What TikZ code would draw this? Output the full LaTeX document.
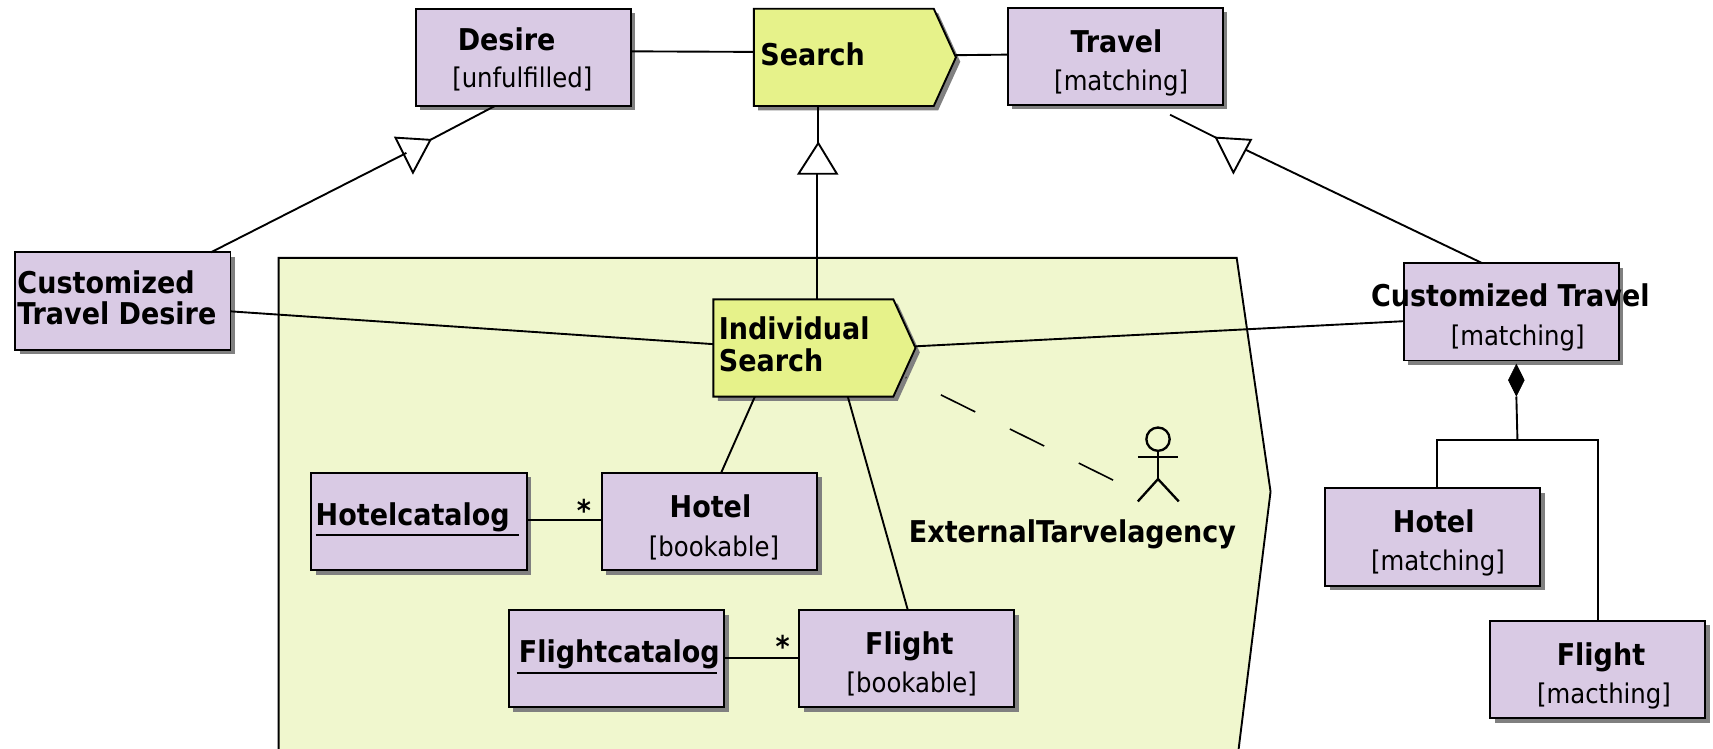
\documentclass[tikz,border=0pt]{standalone}
\usepackage{fontspec}
\setmainfont{DejaVu Sans Condensed}
\usetikzlibrary{shapes.geometric,shapes.symbols,shadows,calc}
\definecolor{boxpurple}{HTML}{D9CAE4}
\definecolor{actyellow}{HTML}{E6F28A}
\definecolor{regiongreen}{HTML}{F0F7CE}
\newcommand{\ttl}[1]{{\fontsize{20.6pt}{24pt}\selectfont\bfseries #1}}
\newcommand{\sta}[1]{{\fontsize{18.6pt}{22pt}\selectfont #1}}
\tikzset{
  x=0.75pt,y=-0.75pt,
  conn/.style={draw=black,line width=1.3pt},
  shade3/.style={drop shadow={shadow xshift=3pt,shadow yshift=-3pt,fill=black!50,opacity=1}},
  objbox/.style={rectangle,draw=black,line width=1.3pt,fill=boxpurple,shade3,minimum width=147.75pt,minimum height=66.75pt,inner sep=0pt,outer sep=0pt},
  actbox/.style={signal,signal to=east,signal from=nowhere,signal pointer angle=131,draw=black,line width=1.3pt,fill=actyellow,shade3,minimum width=138.75pt,minimum height=66.75pt,inner sep=0pt,outer sep=0pt,anchor=west},
  txt/.style={anchor=base west,inner sep=0pt,outer sep=0pt},
  tri/.style={draw=black,line width=1.3pt,fill=white,line join=miter},
}
\begin{document}
\begin{tikzpicture}
\useasboundingbox (0,0) rectangle (1568,685.6);
\begin{scope}
\clip (0,0) rectangle (1568,685.6);
\draw[line width=1.3pt,fill=regiongreen] (255,700) -- (255,236) -- (1132,236) -- (1163,450) -- (1132,700);
\end{scope}

\node[objbox] (desire) at (479,52.5) {};
\node[objbox] (travel) at (1021,51.5) {};
\node[objbox] (ctd) at (112.5,275.5) {};
\node[objbox] (ct) at (1383.5,285.5) {};
\node[objbox] (hcat) at (383.5,477.5) {};
\node[objbox] (hotel) at (649.5,477.5) {};
\node[objbox] (fcat) at (564.5,603) {};
\node[objbox] (flight) at (830,603) {};
\node[objbox] (hotelb) at (1311.5,491.5) {};
\node[objbox] (flightb) at (1462.5,613) {};
\node[actbox] (search) at (690,52.5) {};
\node[actbox] (isearch) at (653,318.5) {};

% generalisation triangles
\coordinate (ta1) at (362,126); \coordinate (ta2) at (394,128); \coordinate (ta3) at (378,158);
\coordinate (tb1) at (749,131); \coordinate (tb2) at (766,159); \coordinate (tb3) at (731,159);
\coordinate (tc1) at (1113,126); \coordinate (tc2) at (1145,128); \coordinate (tc3) at (1129,158);
\draw[tri] (ta1) -- (ta2) -- (ta3) -- cycle;
\draw[tri] (tb1) -- (tb2) -- (tb3) -- cycle;
\draw[tri] (tc1) -- (tc2) -- (tc3) -- cycle;
\coordinate (tam) at (372,140);
\coordinate (tcm) at (1140,137);
\coordinate (tbb) at (748,159);

\draw[conn] ($(desire.east)+(0,-5.5)$) -- ($(search.west)+(0,-5)$);
\draw[conn] ($(search.east)+(0,-2)$) -- ($(travel.west)+(0,-1.5)$);
\draw[conn] ($(desire.south)+(-26,0)$) -- (ta2);
\draw[conn] ($(ctd.north)+(80.5,0)$) -- (tam);
\draw[conn] ($(search.west)+(59,44.5)$) -- (tb1);
\draw[conn] (tbb) -- ($(isearch.west)+(95,-44.5)$);
\draw[conn] ($(travel.south)+(50,9)$) -- (tc1);
\draw[conn] ($(ct.north)+(-26.5,0)$) -- (tcm);
\draw[conn] ($(ctd.east)+(0,9.5)$) -- ($(isearch.west)+(0,-3.5)$);
\draw[conn] ($(isearch.east)+(0,-1.5)$) -- ($(ct.west)+(0,8.5)$);
\draw[conn] ($(isearch.west)+(38,44.5)$) -- ($(hotel.north)+(10.5,0)$);
\draw[conn] ($(isearch.west)+(123,44.5)$) -- ($(flight.north)+(1,0)$);
\draw[conn] ($(hcat.east)+(0,-1.5)$) -- ($(hotel.west)+(0,-1.5)$);
\draw[conn] ($(fcat.east)+(0,-1)$) -- ($(flight.west)+(0,-1)$);

% composition
\node[diamond,draw=black,fill=black,inner sep=0pt,minimum width=11pt,minimum height=22pt,aspect=0.5] (aggr) at (1388,348) {};
\coordinate (junc) at (1389,403);
\coordinate (hbtop) at ($(hotelb.north)+(3.5,0)$);
\coordinate (fbtop) at ($(flightb.north)+(0.5,0)$);
\draw[conn] (aggr.south) -- (junc);
\draw[conn] (hbtop) |- (junc) -| (fbtop);

% actor
\node[circle,draw=black,line width=1.6pt,minimum size=16pt,inner sep=0pt,outer sep=0pt] (head) at (1060,402) {};
\coordinate (hip) at (1060,438.5);
\coordinate (armL) at (1041.5,418.5); \coordinate (armR) at (1078.5,418.5);
\coordinate (legL) at (1041.5,459); \coordinate (legR) at (1079,459);
\draw[line width=1.6pt] (head.south) -- (hip);
\draw[line width=1.6pt] (armL) -- (armR);
\draw[line width=1.6pt] (legL) -- (hip) -- (legR);
\coordinate (dashA) at (829,345.5);
\coordinate (dashB) at (1020,440);
\draw[line width=1.1pt,dash pattern=on 26.3pt off 26.5pt,dash phase=25.8pt] (dashA) -- (dashB);

% texts
\node[txt] (t1) at (419,46) {\ttl{Desire}};
\node[txt] (t2) at (414,80) {\sta{[unfulfilled]}};
\node[txt] (t3) at (696,60) {\ttl{Search}};
\node[txt] (t4) at (980,48) {\ttl{Travel}};
\node[txt] (t5) at (965,83) {\sta{[matching]}};
\node[txt] (t6) at (16,269) {\ttl{Customized}};
\node[txt] (t7) at (16,297) {\ttl{Travel Desire}};
\node[txt] (t8) at (658,311) {\ttl{Individual}};
\node[txt] (t9) at (658,340) {\ttl{Search}};
\node[txt] (t10) at (289,481) {\ttl{Hotelcatalog}};
\node[txt] (t11) at (613,474) {\ttl{Hotel}};
\node[txt] (t12) at (594,509) {\sta{[bookable]}};
\node[txt] (t13) at (475,606) {\ttl{Flightcatalog}};
\node[txt] (t14) at (792,599) {\ttl{Flight}};
\node[txt] (t15) at (775,634) {\sta{[bookable]}};
\node[txt] (t16) at (832,497) {\ttl{ExternalTarvelagency}};
\node[txt] (t17) at (1255,281) {\ttl{Customized Travel}};
\node[txt] (t18) at (1328,316) {\sta{[matching]}};
\node[txt] (t19) at (1275,487) {\ttl{Hotel}};
\node[txt] (t20) at (1255,522) {\sta{[matching]}};
\node[txt] (t21) at (1425,609) {\ttl{Flight}};
\node[txt] (t22) at (1407,644) {\sta{[macthing]}};
\node[txt] (s1) at (528,477) {\ttl{*}};
\node[txt] (s2) at (710,602) {\ttl{*}};
\draw[line width=1.2pt] (289,490) -- (475,490);
\draw[line width=1.2pt] (473,616) -- (656,616);
\end{tikzpicture}
\end{document}
